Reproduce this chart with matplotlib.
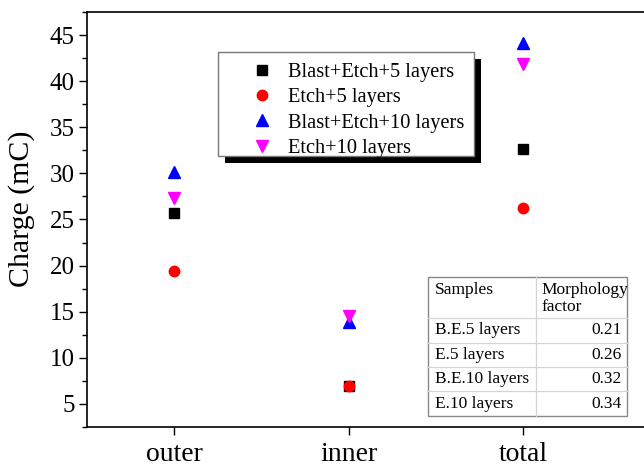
import numpy as np
import matplotlib.pyplot as plt
from matplotlib.lines import Line2D
from matplotlib.patches import Rectangle

plt.rcParams['font.family'] = ['Liberation Serif', 'DejaVu Serif']

groups = ["outer", "inner", "total"]
be5 = [25.7, 6.9, 32.6]
e5 = [19.4, 6.9, 26.3]
be10 = [30.1, 13.9, 44.1]
e10 = [27.3, 14.5, 41.9]

tab_header = ["Samples", "Morphology\nfactor"]
tab_samples = ["B.E.5 layers", "E.5 layers", "B.E.10 layers", "E.10 layers"]
tab_factor = ["0.21", "0.26", "0.32", "0.34"]

W, H = 644, 466
fig = plt.figure(figsize=(W/100, H/100), dpi=100)
ax = fig.add_axes([87/W, 1-427/H, (W-87)/W + 0.01, (427-12)/H])

def fx(px):
    return px / W

def fy(py):
    return 1 - py / H

x = np.arange(len(groups))
ax.plot(x, be5, ls='none', marker='s', ms=6.5, color='black', label='Blast+Etch+5 layers')
ax.plot(x, e5, ls='none', marker='o', ms=7.5, color='red', label='Etch+5 layers')
ax.plot(x, be10, ls='none', marker='^', ms=8.5, color='blue', label='Blast+Etch+10 layers')
ax.plot(x, e10, ls='none', marker='v', ms=8.5, color='magenta', label='Etch+10 layers')

ax.set_xlim(-0.5, 2.73)
ax.set_ylim(2.5, 47.5)
ax.set_xticks(x)
ax.set_xticklabels(groups, fontsize=20)
ax.set_yticks(np.arange(5, 46, 5))
ax.set_yticks(np.arange(2.5, 47.6, 2.5), minor=True)
ax.tick_params(axis='y', labelsize=18, direction='out', length=6, width=1, pad=3)
ax.tick_params(axis='y', which='minor', length=3.5, width=1)
ax.tick_params(axis='x', direction='out', length=6, width=1, pad=5)
ax.set_ylabel('Charge (mC)', fontsize=21.5)
ax.yaxis.set_label_coords(-0.093, (427-209)/415)
ax.spines['right'].set_visible(False)
for s in ['left', 'bottom', 'top']:
    ax.spines[s].set_linewidth(1.2)

# legend without its own frame, frame and shadow drawn as patches
leg = ax.legend(loc='upper left', bbox_to_anchor=(fx(251.5), fy(62.5)),
                bbox_transform=fig.transFigure, borderaxespad=0, borderpad=0,
                fontsize=14.7, frameon=False, handlelength=1.0, handletextpad=0.77,
                labelspacing=0.3)
leg.set_zorder(6)
ax.add_patch(Rectangle((fx(225), fy(163)), fx(474) - fx(218), fy(52) - fy(156),
                       transform=fig.transFigure, facecolor='black', edgecolor='none',
                       zorder=4, clip_on=False))
ax.add_patch(Rectangle((fx(218), fy(156)), fx(474) - fx(218), fy(52) - fy(156),
                       transform=fig.transFigure, facecolor='white', edgecolor='#777777',
                       lw=1, zorder=5, clip_on=False))

# table drawn by hand in pixel coordinates of the figure
tx0, tsplit, tx1 = 428, 536, 627
row_edges = [277, 318, 343, 367, 391, 416]
grid_c = '#d4d4d4'
fig.patches.append(Rectangle((fx(tx0), fy(row_edges[-1])), fx(tx1) - fx(tx0),
                             fy(row_edges[0]) - fy(row_edges[-1]),
                             transform=fig.transFigure, facecolor='white',
                             edgecolor='#888888', lw=1, zorder=10))
for ry in row_edges[1:-1]:
    fig.add_artist(Line2D([fx(tx0), fx(tx1)], [fy(ry), fy(ry)], color=grid_c, lw=0.9, zorder=11))
fig.add_artist(Line2D([fx(tsplit), fx(tsplit)], [fy(row_edges[0]), fy(row_edges[-1])],
                      color=grid_c, lw=0.9, zorder=11))

fs = 12.5
fig.text(fx(tx0 + 7), fy(row_edges[0] + 5), tab_header[0], ha='left', va='top',
         fontsize=fs, zorder=12, linespacing=1.0)
fig.text(fx(tsplit + 5), fy(row_edges[0] + 5), tab_header[1], ha='left', va='top',
         fontsize=fs, zorder=12, linespacing=1.05)
for i, (s, f) in enumerate(zip(tab_samples, tab_factor)):
    yc = (row_edges[i + 1] + row_edges[i + 2]) / 2
    fig.text(fx(tx0 + 7), fy(yc), s, ha='left', va='center', fontsize=fs, zorder=12)
    fig.text(fx(tx1 - 5), fy(yc), f, ha='right', va='center', fontsize=fs, zorder=12)

fig.savefig('out.png', dpi=100)
